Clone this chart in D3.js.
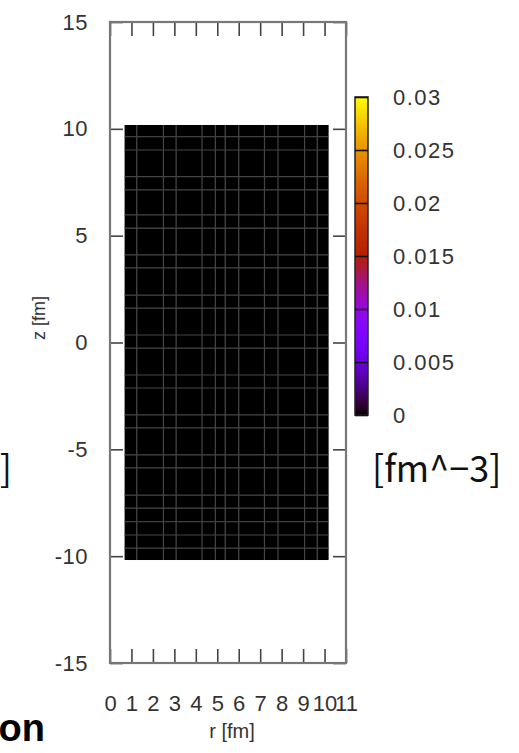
<!DOCTYPE html>
<html>
<head>
<meta charset="utf-8">
<script src="https://cdn.jsdelivr.net/npm/d3@7"></script>
<style>
  html, body { margin: 0; padding: 0; background: #fff; }
  .container { width: 519px; height: 753px; }
  .tick text { font-family: "Liberation Sans", Arial, Helvetica, sans-serif; fill: #333; }
</style>
</head>
<body>
<div class="container"></div>
<script>
const WIDTH = 519;
const HEIGHT = 753;

// plot frame in pixels
const LEFT = 110;
const RIGHT = 346;
const TOP = 22;
const BOTTOM = 663;

// axis ticks
const R_TICKS = [0, 1, 2, 3, 4, 5, 6, 7, 8, 9, 10, 11];
const Z_TICKS = [-15, -10, -5, 0, 5, 10, 15];
const CB_TICKS = [0, 0.005, 0.01, 0.015, 0.02, 0.025, 0.03];

// mesh cell edges (fm)
const R_EDGES = [0.68, 1.25, 2.49, 3.08, 4.29, 4.91, 5.37, 6.0, 7.2, 7.83, 9.07, 9.66, 10.19];
const Z_EDGES = [-10.18, -9.62, -9.01, -8.39, -7.75, -7.14, -5.87, -5.26, -4.0, -3.39,
                 -2.13, -1.52, -0.26, 0.35, 1.61, 2.22, 3.49, 4.1, 5.35, 5.97,
                 7.14, 7.76, 9.01, 9.63, 10.18];

// density per cell [fm^-3], rows follow Z_EDGES (bottom to top), columns follow R_EDGES
const DENSITY = [
  [0, 0, 0, 0, 0, 0, 0, 0, 0, 0, 0, 0],
  [0, 0, 0, 0, 0, 0, 0, 0, 0, 0, 0, 0],
  [0, 0, 0, 0, 0, 0, 0, 0, 0, 0, 0, 0],
  [0, 0, 0, 0, 0, 0, 0, 0, 0, 0, 0, 0],
  [0, 0, 0, 0, 0, 0, 0, 0, 0, 0, 0, 0],
  [0, 0, 0, 0, 0, 0, 0, 0, 0, 0, 0, 0],
  [0, 0, 0, 0, 0, 0, 0, 0, 0, 0, 0, 0],
  [0, 0, 0, 0, 0, 0, 0, 0, 0, 0, 0, 0],
  [0, 0, 0, 0, 0, 0, 0, 0, 0, 0, 0, 0],
  [0, 0, 0, 0, 0, 0, 0, 0, 0, 0, 0, 0],
  [0, 0, 0, 0, 0, 0, 0, 0, 0, 0, 0, 0],
  [0, 0, 0, 0, 0, 0, 0, 0, 0, 0, 0, 0],
  [0, 0, 0, 0, 0, 0, 0, 0, 0, 0, 0, 0],
  [0, 0, 0, 0, 0, 0, 0, 0, 0, 0, 0, 0],
  [0, 0, 0, 0, 0, 0, 0, 0, 0, 0, 0, 0],
  [0, 0, 0, 0, 0, 0, 0, 0, 0, 0, 0, 0],
  [0, 0, 0, 0, 0, 0, 0, 0, 0, 0, 0, 0],
  [0, 0, 0, 0, 0, 0, 0, 0, 0, 0, 0, 0],
  [0, 0, 0, 0, 0, 0, 0, 0, 0, 0, 0, 0],
  [0, 0, 0, 0, 0, 0, 0, 0, 0, 0, 0, 0],
  [0, 0, 0, 0, 0, 0, 0, 0, 0, 0, 0, 0],
  [0, 0, 0, 0, 0, 0, 0, 0, 0, 0, 0, 0],
  [0, 0, 0, 0, 0, 0, 0, 0, 0, 0, 0, 0],
  [0, 0, 0, 0, 0, 0, 0, 0, 0, 0, 0, 0]
];

var xScale = d3.scaleLinear().domain([0, 11]).range([LEFT, RIGHT]);
var yScale = d3.scaleLinear().domain([-15, 15]).range([BOTTOM, TOP]);

// gnuplot default pm3d palette (rgbformulae 7,5,15)
var palette = function(t){
    var r = Math.sqrt(t);
    var g = t * t * t;
    var b = Math.max(0, Math.sin(2 * Math.PI * t));
    return d3.rgb(r * 255, g * 255, b * 255).toString();
};
var colorScale = d3.scaleSequential(palette).domain([0, 0.03]);

var cbScale = d3.scaleLinear().domain([0, 0.03]).range([415, 97]);
const CB_X = 355;
const CB_W = 13;

var svg = d3.select('.container').append('svg')
    .attr('width', WIDTH)
    .attr('height', HEIGHT);

// heatmap cells
var cells = [];
DENSITY.forEach(function(row, j){
    row.forEach(function(v, i){
        cells.push({r0: R_EDGES[i], r1: R_EDGES[i + 1], z0: Z_EDGES[j], z1: Z_EDGES[j + 1], v: v});
    });
});

svg.append('g').selectAll('rect')
    .data(cells)
    .enter()
    .append('rect')
    .attr('x', function(d){ return xScale(d.r0); })
    .attr('y', function(d){ return yScale(d.z1); })
    .attr('width', function(d){ return xScale(d.r1) - xScale(d.r0); })
    .attr('height', function(d){ return yScale(d.z0) - yScale(d.z1); })
    .attr('fill', function(d){ return colorScale(d.v); });

// seams between cells
var seams = svg.append('g').attr('stroke', '#444').attr('stroke-width', 1.2);
seams.selectAll('.vs')
    .data(R_EDGES.slice(1, -1))
    .enter().append('line')
    .attr('x1', function(d){ return xScale(d); })
    .attr('x2', function(d){ return xScale(d); })
    .attr('y1', yScale(Z_EDGES[Z_EDGES.length - 1]))
    .attr('y2', yScale(Z_EDGES[0]));
seams.selectAll('.hs')
    .data(Z_EDGES.slice(1, -1))
    .enter().append('line')
    .attr('y1', function(d){ return yScale(d); })
    .attr('y2', function(d){ return yScale(d); })
    .attr('x1', xScale(R_EDGES[0]))
    .attr('x2', xScale(R_EDGES[R_EDGES.length - 1]));

// axes (ticks inward, mirrored)
var styleAxis = function(g){
    g.select('.domain').remove();
    g.selectAll('.tick line').attr('stroke', '#444').attr('stroke-width', 1.6);
};
var plain = function(d){ return String(d); };

svg.append('g')
    .attr('transform', 'translate(' + LEFT + ',0)')
    .call(d3.axisLeft(yScale).tickValues(Z_TICKS).tickFormat(plain).tickSizeInner(-13).tickSizeOuter(0).tickPadding(22))
    .call(styleAxis)
    .selectAll('text').attr('font-size', 22).attr('letter-spacing', 0.5);

svg.append('g')
    .attr('transform', 'translate(' + RIGHT + ',0)')
    .call(d3.axisRight(yScale).tickValues(Z_TICKS).tickSizeInner(-13).tickSizeOuter(0).tickFormat(''))
    .call(styleAxis);

svg.append('g')
    .attr('transform', 'translate(0,' + BOTTOM + ')')
    .call(d3.axisBottom(xScale).tickValues(R_TICKS).tickFormat(plain).tickSizeInner(-14).tickSizeOuter(0).tickPadding(32))
    .call(styleAxis)
    .selectAll('text').attr('font-size', 22);

svg.append('g')
    .attr('transform', 'translate(0,' + TOP + ')')
    .call(d3.axisTop(xScale).tickValues(R_TICKS).tickSizeInner(-14).tickSizeOuter(0).tickFormat(''))
    .call(styleAxis);

// frame
svg.append('rect')
    .attr('x', LEFT).attr('y', TOP)
    .attr('width', RIGHT - LEFT).attr('height', BOTTOM - TOP)
    .attr('fill', 'none')
    .attr('stroke', '#777')
    .attr('stroke-width', 2.2);

// axis titles
svg.append('text')
    .attr('transform', 'translate(45,318) rotate(-90)')
    .attr('text-anchor', 'middle')
    .attr('font-family', '"Liberation Sans", Arial, sans-serif')
    .attr('font-size', 18)
    .attr('fill', '#333')
    .text('z [fm]');

svg.append('text')
    .attr('x', 232).attr('y', 738)
    .attr('text-anchor', 'middle')
    .attr('font-family', '"Liberation Sans", Arial, sans-serif')
    .attr('font-size', 20)
    .attr('fill', '#333')
    .text('r [fm]');

// colour box
var defs = svg.append('defs');
var grad = defs.append('linearGradient')
    .attr('id', 'cbgrad')
    .attr('x1', 0).attr('y1', 1).attr('x2', 0).attr('y2', 0);
d3.range(0, 1.0001, 0.02).forEach(function(t){
    grad.append('stop')
        .attr('offset', t)
        .attr('stop-color', colorScale(t * 0.03));
});

svg.append('rect')
    .attr('x', CB_X).attr('y', cbScale(0.03))
    .attr('width', CB_W).attr('height', cbScale(0) - cbScale(0.03))
    .attr('fill', 'url(#cbgrad)')
    .attr('stroke', '#222')
    .attr('stroke-width', 1.5);

var cbAxis = svg.append('g')
    .attr('transform', 'translate(' + CB_X + ',0)')
    .call(d3.axisRight(cbScale).tickValues(CB_TICKS).tickSizeInner(CB_W).tickSizeOuter(0).tickPadding(25)
        .tickFormat(function(d){ return String(+d.toFixed(3)); }));
cbAxis.select('.domain').remove();
cbAxis.selectAll('.tick line').attr('stroke', '#111').attr('stroke-width', 1.6);
cbAxis.selectAll('text').attr('font-size', 22).attr('letter-spacing', 1.5);

// colour box unit
svg.append('text')
    .attr('x', 372).attr('y', 482)
    .attr('font-family', '"Noto Sans CJK JP", sans-serif')
    .attr('font-size', 36)
    .attr('fill', '#111')
    .text('[fm^\u22123]');

// fragments of the neighbouring panels
svg.append('text')
    .attr('x', 12).attr('y', 482)
    .attr('text-anchor', 'end')
    .attr('font-family', '"Noto Sans CJK JP", sans-serif')
    .attr('font-size', 36)
    .attr('fill', '#111')
    .text(']');

svg.append('text')
    .attr('x', 45).attr('y', 741)
    .attr('text-anchor', 'end')
    .attr('font-family', '"Liberation Sans", Arial, sans-serif')
    .attr('font-weight', 'bold')
    .attr('font-size', 38)
    .attr('fill', '#000')
    .text('on');
</script>
</body>
</html>
